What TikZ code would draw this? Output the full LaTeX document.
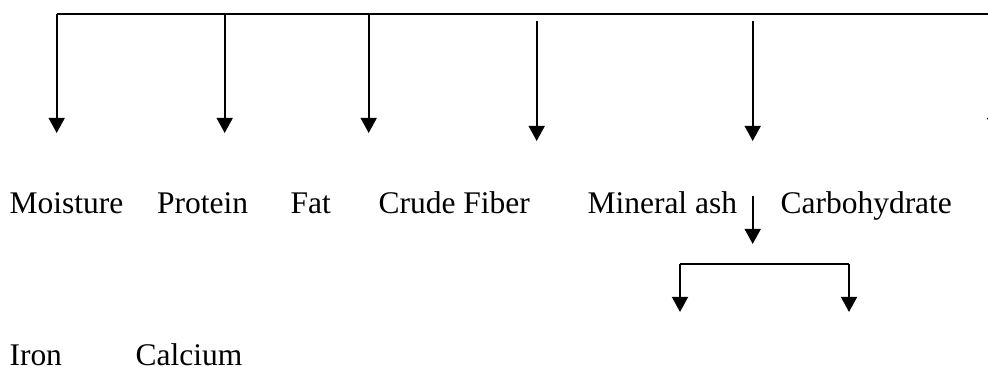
\documentclass[tikz,border=0pt]{standalone}
\usepackage{fontspec}
\setmainfont{Liberation Serif}
\usetikzlibrary{arrows.meta}
\begin{document}
\begin{tikzpicture}[x=0.381pt,y=-0.381pt,
  label/.style={anchor=base west,inner sep=0pt,font=\fontsize{12}{14}\selectfont},
  branch/.style={line width=0.85pt,-{Triangle[width=6.1pt,length=5.8pt]}},
  rail/.style={line width=1.05pt}]
\useasboundingbox (0,0) rectangle (988,367);
\clip (0,0) rectangle (988,367);

% main labels
\node[label] (moist) at (9,214) {Moisture};
\node[label] (prot)  at (156.5,214) {Protein};
\node[label] (fat)   at (290,214) {Fat};
\node[label] (fib)   at (378,214) {Crude Fiber};
\node[label] (ash)   at (587,214) {Mineral ash};
\node[label] (carb)  at (780,214) {Carbohydrate};
\node[label] (iron)  at (9,366) {Iron};
\node[label] (calc)  at (135,366) {Calcium};

% top rail and its drops
\coordinate (r0) at (56.7,14);
\coordinate (r1) at (224.7,14);
\coordinate (r2) at (368.7,14);
\coordinate (rEnd) at (1000,14);
\draw[rail] (r0) -- (rEnd);
\coordinate (t0) at (56.7,133);
\coordinate (t1) at (224.7,133);
\coordinate (t2) at (368.7,133);
\draw[branch] (r0) -- (t0);
\draw[branch] (r1) -- (t1);
\draw[branch] (r2) -- (t2);

% detached drops
\coordinate (s3) at (536.7,21);
\coordinate (t3) at (536.7,141);
\coordinate (s4) at (752.7,21);
\coordinate (t4) at (752.7,141);
\coordinate (s5) at (995,60);
\coordinate (t5) at (995,133);
\draw[branch] (s3) -- (t3);
\draw[branch] (s4) -- (t4);
\draw[branch] (s5) -- (t5);

% mineral ash split
\coordinate (m0) at (752.7,196);
\coordinate (m1) at (752.7,244);
\draw[branch] (m0) -- (m1);
\coordinate (bl) at (680,264);
\coordinate (br) at (849,264);
\coordinate (bl2) at (680,312);
\coordinate (br2) at (849,312);
\draw[line width=0.85pt] (bl) -- (br);
\draw[branch] (bl) -- (bl2);
\draw[branch] (br) -- (br2);
\end{tikzpicture}
\end{document}
